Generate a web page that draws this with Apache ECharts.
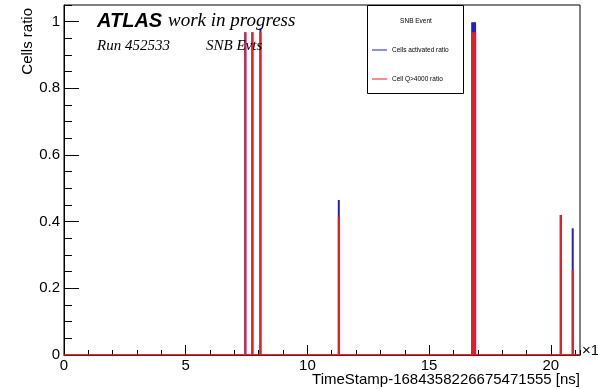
<!DOCTYPE html>
<html>
<head>
<meta charset="utf-8">
<script src="https://cdn.jsdelivr.net/npm/echarts@6/dist/echarts.min.js"></script>
<style>html,body{margin:0;padding:0;background:#fff}#c{width:598px;height:389px}</style>
</head>
<body>
<div id="c"></div>
<script>
// ---- data ----
const binCenters = [7.45, 7.74, 8.07, 11.29, 16.77, 16.83, 16.89, 20.41, 20.90];
const activatedRatio = [0.968, 0.968, 0.98, 0.465, 0.998, 0.998, 0.998, 0.42, 0.38];
const q4000Ratio = [0.968, 0.968, 0.968, 0.415, 0.968, 0.968, 0.968, 0.42, 0.255];
const binWidth = 0.07;
const xRange = [0, 21.2];
const yRange = [0, 1.05];
const xTickLabels = [0, 5, 10, 15, 20];
const yTickLabels = [0, 0.2, 0.4, 0.6, 0.8, 1];

const BLUE = '#1f1fc4';
const RED = '#ec1c24';

function histSeries(name, values, color) {
  return {
    name: name,
    type: 'custom',
    xAxisIndex: 0, yAxisIndex: 0,
    data: binCenters.map((c, i) => [c, values[i]]),
    renderItem: function (params, api) {
      const c = api.value(0), v = api.value(1);
      const p0 = api.coord([c - binWidth / 2, v]);
      const p1 = api.coord([c + binWidth / 2, 0]);
      let w = p1[0] - p0[0];
      let x = p0[0];
      if (w < 2) { x = (p0[0] + p1[0]) / 2 - 1; w = 2; }
      return {
        type: 'rect',
        shape: { x: x, y: p0[1], width: w, height: p1[1] - p0[1] },
        style: { fill: color }
      };
    },
    z: 3
  };
}

const chart = echarts.init(document.getElementById('c'), null, { renderer: 'canvas' });
const labelFont = { fontFamily: 'Liberation Sans', fontSize: 15, color: '#000' };

chart.setOption({
  animation: false,
  backgroundColor: '#fff',
  grid: { left: 64, right: 18, top: 5, bottom: 34, show: true, borderColor: '#000', borderWidth: 1, backgroundColor: 'transparent' },
  xAxis: [
    {
      type: 'value', min: xRange[0], max: xRange[1], interval: 5,
      axisLine: { show: true, lineStyle: { color: '#000', width: 1 } },
      axisTick: { show: true, inside: true, length: 10, lineStyle: { color: '#000' } },
      axisLabel: Object.assign({ margin: 3, showMaxLabel: false,
        formatter: v => xTickLabels.includes(v) ? String(v) : '' }, labelFont),
      splitLine: { show: false }
    },
    {
      type: 'value', min: xRange[0], max: xRange[1], interval: 1, position: 'bottom',
      axisLine: { show: false },
      axisTick: { show: true, inside: true, length: 5, lineStyle: { color: '#000' } },
      axisLabel: { show: false }, splitLine: { show: false }
    }
  ],
  yAxis: [
    {
      type: 'value', min: yRange[0], max: yRange[1], interval: 0.2,
      axisLine: { show: true, lineStyle: { color: '#000', width: 1 } },
      axisTick: { show: true, inside: true, length: 15, lineStyle: { color: '#000' } },
      axisLabel: Object.assign({ margin: 4, showMaxLabel: false,
        formatter: v => { const r = Math.round(v * 100) / 100; return yTickLabels.includes(r) ? String(r) : ''; } }, labelFont),
      splitLine: { show: false }
    },
    {
      type: 'value', min: yRange[0], max: yRange[1], interval: 0.05, position: 'left',
      axisLine: { show: false },
      axisTick: { show: true, inside: true, length: 8, lineStyle: { color: '#000' } },
      axisLabel: { show: false }, splitLine: { show: false }
    }
  ],
  series: [
    histSeries('Cells activated ratio', activatedRatio, BLUE),
    histSeries('Cell Q>4000 ratio', q4000Ratio, RED),
    {
      name: 'baseline', type: 'line', xAxisIndex: 0, yAxisIndex: 0,
      data: [[xRange[0], 0], [xRange[1], 0]],
      symbol: 'none', lineStyle: { color: RED, width: 1.5 }, z: 4, silent: true
    }
  ],
  graphic: [
    { type: 'text', x: 97, y: 21, style: { text: 'ATLAS', font: 'italic bold 20px "Liberation Sans"', fill: '#000', textVerticalAlign: 'middle' }, z: 10 },
    { type: 'text', x: 168, y: 21, style: { text: 'work in progress', font: 'italic 19px "Liberation Serif"', fill: '#000', textVerticalAlign: 'middle' }, z: 10 },
    { type: 'text', x: 97, y: 46, style: { text: 'Run 452533', font: 'italic 15px "Liberation Serif"', fill: '#000', textVerticalAlign: 'middle' }, z: 10 },
    { type: 'text', x: 206, y: 46, style: { text: 'SNB Evts', font: 'italic 15px "Liberation Serif"', fill: '#000', textVerticalAlign: 'middle' }, z: 10 },
    { type: 'text', x: 28, y: 8, rotation: Math.PI / 2, style: { text: 'Cells ratio', font: '15px "Liberation Sans"', fill: '#000', textAlign: 'right', textVerticalAlign: 'middle' }, z: 10 },
    { type: 'text', x: 580, y: 380, style: { text: 'TimeStamp-1684358226675471555 [ns]', font: '15px "Liberation Sans"', fill: '#000', textAlign: 'right', textVerticalAlign: 'middle' }, z: 10 },
    { type: 'text', x: 582, y: 351, style: { text: '\u00d71', font: '15px "Liberation Sans"', fill: '#000', textVerticalAlign: 'middle' }, z: 10 },
    // legend box
    { type: 'rect', shape: { x: 367.5, y: 5.5, width: 96, height: 88 }, style: { fill: '#fff', stroke: '#000', lineWidth: 1 }, z: 20 },
    { type: 'text', x: 416, y: 21, style: { text: 'SNB Event', font: '6.5px "Liberation Sans"', fill: '#000', textAlign: 'center', textVerticalAlign: 'middle' }, z: 21 },
    { type: 'line', shape: { x1: 372, y1: 50, x2: 387, y2: 50 }, style: { stroke: BLUE, lineWidth: 1 }, z: 21 },
    { type: 'text', x: 392, y: 50, style: { text: 'Cells activated ratio', font: '6.5px "Liberation Sans"', fill: '#000', textVerticalAlign: 'middle' }, z: 21 },
    { type: 'line', shape: { x1: 372, y1: 79, x2: 387, y2: 79 }, style: { stroke: RED, lineWidth: 1 }, z: 21 },
    { type: 'text', x: 392, y: 79, style: { text: 'Cell Q>4000 ratio', font: '6.5px "Liberation Sans"', fill: '#000', textVerticalAlign: 'middle' }, z: 21 }
  ]
});
</script>
</body>
</html>
